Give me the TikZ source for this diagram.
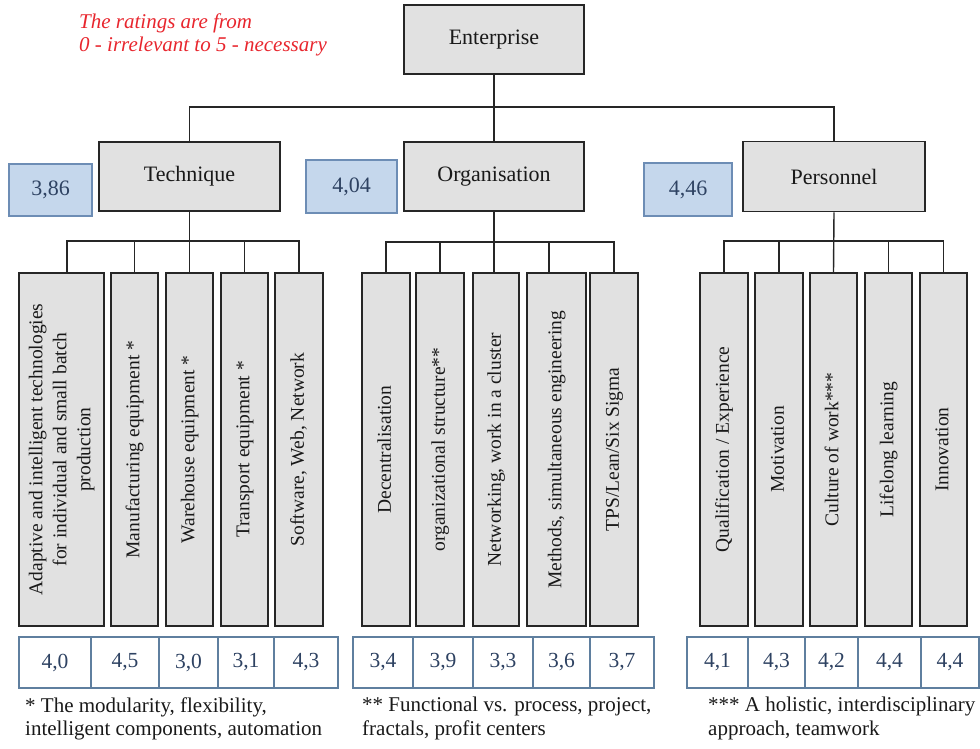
\documentclass[tikz,border=0pt]{standalone}
\usepackage{fontspec}
\setmainfont{Liberation Serif}
\usepackage{tikz}
\definecolor{boxgray}{HTML}{E1E1E1}
\definecolor{sumblue}{HTML}{C5D7EC}
\definecolor{sumedge}{HTML}{6D8DB5}
\definecolor{valedge}{HTML}{5F7F9F}
\definecolor{valtext}{HTML}{2E4262}
\definecolor{ratered}{HTML}{E8262E}
\newcommand{\bigfont}{\fontsize{22}{24}\selectfont}
\newcommand{\notefont}{\fontsize{21}{23}\selectfont}
\newcommand{\leaffont}{\fontsize{19.5}{24}\selectfont}
\newcommand{\valfont}{\fontsize{21.5}{24}\selectfont}
\newcommand{\footfont}{\fontsize{21}{24}\selectfont}
\tikzset{
  mainbox/.style={draw=black!85, line width=1.6pt, fill=boxgray, inner sep=0pt, text=black!90, font=\bigfont},
  leafbox/.style={draw=black!85, line width=1.6pt, fill=boxgray, inner sep=0pt, minimum height=353pt, text=black!90, font=\leaffont},
  sumbox/.style={draw=sumedge, line width=1.2pt, fill=sumblue, inner sep=0pt, text=valtext, font=\bigfont},
  valcell/.style={draw=valedge, line width=1.2pt, fill=white, inner sep=0pt, minimum height=51pt, text=valtext, font=\valfont},
  foot/.style={anchor=north west, inner sep=0pt, align=left, text=black!90, font=\footfont},
  conn/.style={draw=black!85, line width=1.4pt}
}

\begin{document}
\begin{tikzpicture}[x=1pt,y=-1pt]
\useasboundingbox (0,0) rectangle (980,748);

\node[anchor=north west, inner sep=0pt, align=left, text=ratered, font=\notefont\itshape] (note) at (79,14) {The ratings are from\\0 - irrelevant to 5 - necessary};

% top of the tree
\node[mainbox, minimum width=180pt, minimum height=69pt] (ent) at (494,39.5) {Enterprise};
\node[mainbox, minimum width=181pt, minimum height=69pt] (tech) at (189.5,176.5) {Technique};
\node[mainbox, minimum width=180pt, minimum height=69pt] (org) at (494,176.5) {Organisation};
\node[mainbox, minimum width=182pt, minimum height=70pt] (pers) at (834,176.5) {Personnel};

\node[sumbox, minimum width=83pt, minimum height=52pt] (tsum) at (50.5,190) {3,86};
\node[sumbox, minimum width=91pt, minimum height=53pt] (osum) at (351.5,186.5) {4,04};
\node[sumbox, minimum width=88pt, minimum height=53pt] (psum) at (688,189.5) {4,46};

% leaves
\foreach \a/\b/\nm/\lbl in {19/104/tl1/{Adaptive and intelligent technologies\\for individual and small batch\\production},
  111/158/tl2/{Manufacturing equipment *}, 166/213/tl3/{Warehouse equipment *},
  221/268/tl4/{Transport equipment *}, 275/323/tl5/{Software, Web, Network},
  362/410/ol1/{Decentralisation}, 416/464/ol2/{organizational structure**},
  473/519/ol3/{Networking, work in a cluster}, 527/586/ol4/{Methods, simultaneous engineering},
  590/638/ol5/{TPS/Lean/Six Sigma},
  700/748/pl1/{Qualification / Experience}, 755/803/pl2/{Motivation},
  810/857/pl3/{Culture of work***}, 865/912/pl4/{Lifelong learning}, 920/967/pl5/{Innovation}}
{
  \pgfmathsetmacro\w{\b-\a}
  \node[leafbox, minimum width=\w pt] (\nm) at ({(\a+\b)/2},449.5)
    {\rotatebox{90}{\begin{tabular}{@{}c@{}}\lbl\end{tabular}}};
}

% ratings of the leaves
\foreach \a/\b/\nm/\v in {19/91/tv1/{4,0}, 91/159/tv2/{4,5}, 159/218/tv3/{3,0}, 218/274/tv4/{3,1}, 274/338/tv5/{4,3},
  353/413/ov1/{3,4}, 413/473/ov2/{3,9}, 473/533/ov3/{3,3}, 533/590/ov4/{3,6}, 590/654/ov5/{3,7},
  687/748/pv1/{4,1}, 748/805/pv2/{4,3}, 805/858/pv3/{4,2}, 858/921/pv4/{4,4}, 921/979/pv5/{4,4}}
{
  \pgfmathsetmacro\w{\b-\a}
  \node[valcell, minimum width=\w pt] (\nm) at ({(\a+\b)/2},662.5) {\v};
}

% connectors
\coordinate (topbar) at (494,107);
\draw[conn] (ent) -- (org);
\draw[conn] (tech.north) |- (topbar) -| (pers.north);

\coordinate (tbar) at (190,241);
\draw[conn] (tech.south) -- (tl3.north);
\draw[conn] ([xshift=5.5pt]tl1.north) |- (tbar) -| (tl5.north);
\foreach \nm in {tl2,tl4} \draw[conn] (\nm.north) -- (\nm.north |- tbar);

\coordinate (obar) at (494,242);
\draw[conn] (org.south) -- (org.south |- ol3.north);
\draw[conn] (ol1.north) |- (obar) -| (ol5.north);
\draw[conn] (ol2.north) -- (ol2.north |- obar);
\draw[conn] ([xshift=-7.5pt]ol4.north) -- ([xshift=-7.5pt]ol4.north |- obar);

\coordinate (pbar) at (834,241);
\draw[conn] (pers.south) -- (pl3.north);
\draw[conn] (pl1.north) |- (pbar) -| (pl5.north);
\foreach \nm in {pl2,pl4} \draw[conn] (\nm.north) -- (\nm.north |- pbar);

% footnotes
\node[foot] (tfoot) at (25,697) {* The modularity, flexibility,\\intelligent components, automation};
\node[foot] (ofoot) at (362,697) {** Functional vs. process, project,\\fractals, profit centers};
\node[foot] (pfoot) at (708,697) {*** A holistic, interdisciplinary\\approach, teamwork};
\end{tikzpicture}
\end{document}
